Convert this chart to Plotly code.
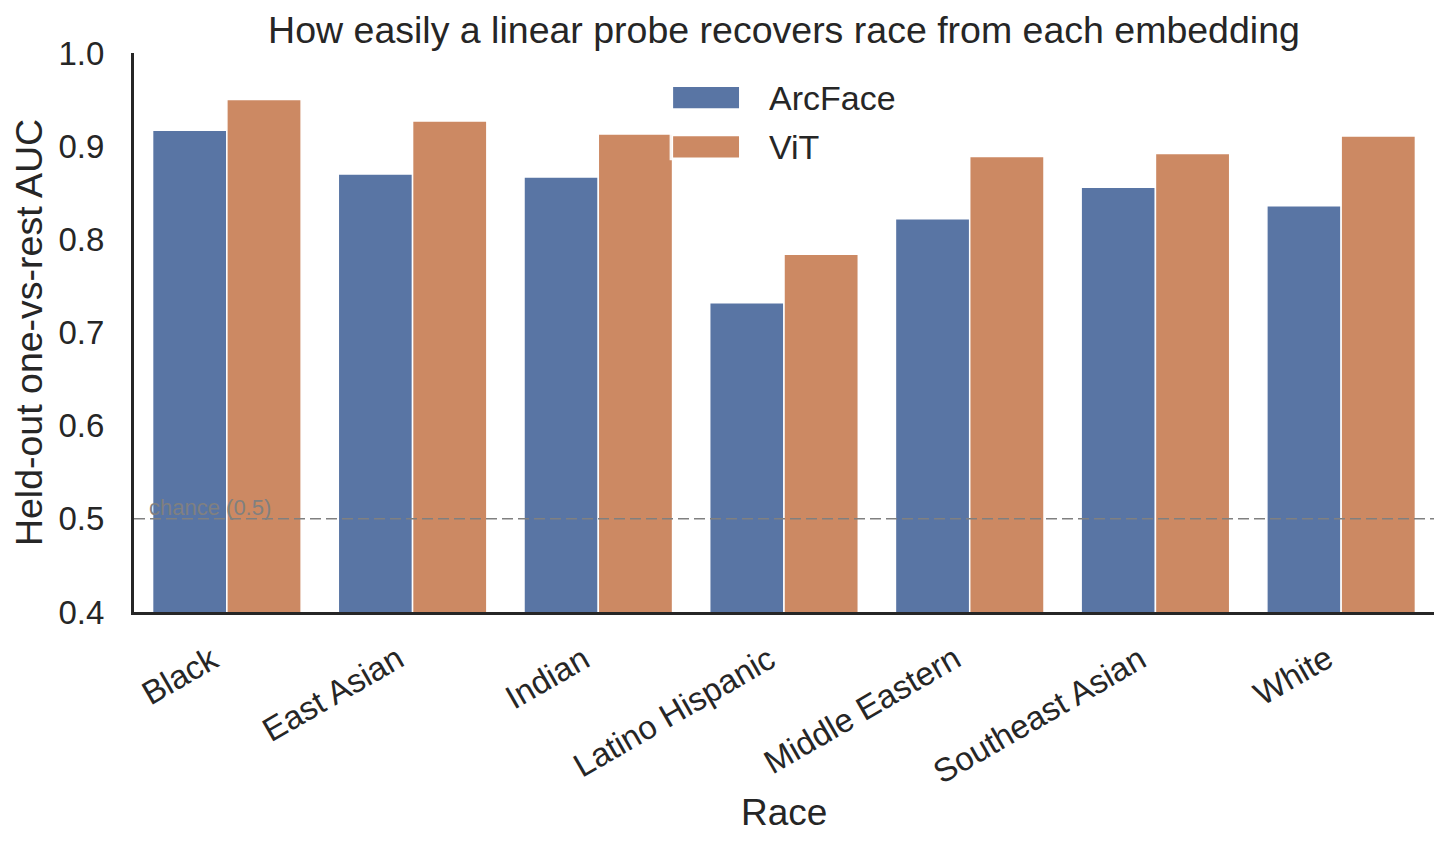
import plotly.graph_objects as go

races = ["Black", "East Asian", "Indian", "Latino Hispanic",
         "Middle Eastern", "Southeast Asian", "White"]
arcface_auc = [0.917, 0.870, 0.867, 0.732, 0.822, 0.856, 0.836]
vit_auc = [0.950, 0.927, 0.913, 0.784, 0.889, 0.892, 0.911]
chance = 0.5

series = [("ArcFace", arcface_auc, "#5975a4"), ("ViT", vit_auc, "#cc8963")]

font = "Liberation Sans, Arial, sans-serif"
ink = "#262626"

fig = go.Figure()
for name, vals, col in series:
    fig.add_trace(go.Bar(x=races, y=vals, name=name, showlegend=False,
                         marker=dict(color=col, line=dict(color="white", width=1.5))))

# chance line + label
fig.add_hline(y=chance, line=dict(color="gray", width=1.5, dash="11px,5px"), layer="above")
fig.add_annotation(x=0.01, xref="paper", y=chance, yref="y", text="chance (0.5)",
                   showarrow=False, xanchor="left", yanchor="bottom", yshift=-3,
                   font=dict(family=font, size=22, color="gray"))

# legend drawn by hand so the patches are wide like matplotlib's
fig.add_shape(type="rect", xref="paper", yref="paper", x0=0.412, x1=0.594,
              y0=0.808, y1=0.97, fillcolor="rgba(255,255,255,0.9)", line_width=0,
              layer="above")
for i, (name, vals, col) in enumerate(series):
    yc = 0.920 - i * 0.088
    fig.add_shape(type="rect", xref="paper", yref="paper", x0=0.4147, x1=0.4654,
                  y0=yc - 0.019, y1=yc + 0.019, fillcolor=col, line_width=0,
                  layer="above")
    fig.add_annotation(x=0.487, xref="paper", y=yc, yref="paper", text=name,
                       showarrow=False, xanchor="left", yanchor="middle",
                       font=dict(family=font, size=34, color=ink))

# rotated category labels, right/top aligned like matplotlib ha="right"
for r in races:
    fig.add_annotation(x=r, xref="x", y=0, yref="paper", text=r, textangle=-30,
                       showarrow=False, xanchor="right", yanchor="top", yshift=-24,
                       font=dict(family=font, size=33, color=ink))
fig.add_annotation(x=0.5, xref="paper", y=0, yref="paper", text="Race",
                   showarrow=False, xanchor="center", yanchor="middle", yshift=-200,
                   font=dict(family=font, size=37, color=ink))

fig.update_layout(
    width=1440, height=839,
    margin=dict(l=124, r=14, t=45, b=235, pad=0),
    plot_bgcolor="white", paper_bgcolor="white",
    barmode="group", bargap=0.2, bargroupgap=0.0,
    font=dict(family=font, color=ink),
    title=dict(text="How easily a linear probe recovers race from each embedding",
               x=0.5, xref="paper", xanchor="center", y=0.974, yanchor="middle",
               font=dict(size=37.5, color=ink)),
)
fig.update_xaxes(
    showticklabels=False,
    showline=True, linewidth=3, linecolor=ink, ticks="",
    range=[-0.5, 6.5], showgrid=False,
)
fig.update_yaxes(
    title=dict(text="Held-out one-vs-rest AUC", font=dict(size=37.5, color=ink), standoff=12),
    range=[0.4, 1.0], dtick=0.1, tickformat=".1f", tickfont=dict(size=33, color=ink),
    ticklabelstandoff=20,
    showline=True, linewidth=3, linecolor=ink, ticks="", showgrid=False,
    zeroline=False,
)

fig.write_html("out.html")
